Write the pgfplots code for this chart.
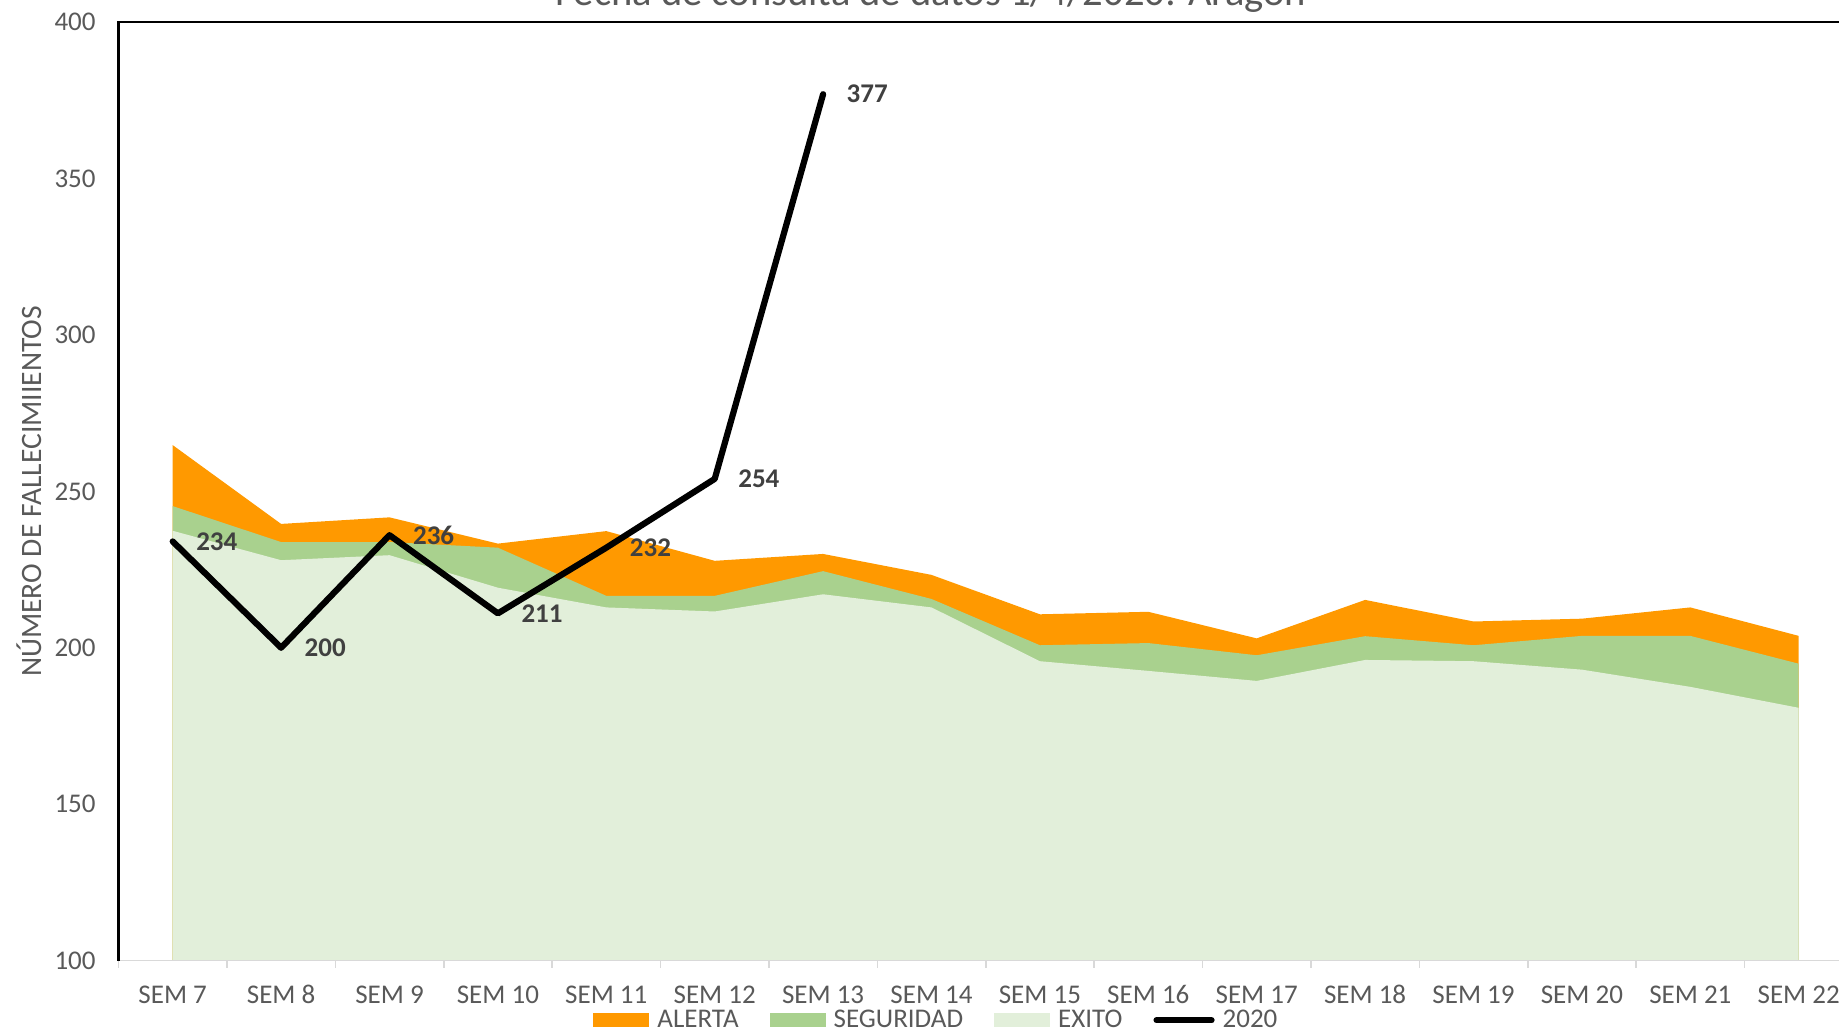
\documentclass[border=0pt]{standalone}
\usepackage{fontspec}
\setmainfont{Carlito}
\usepackage{pgfplots}
\usepackage{pgfplotstable}
\pgfplotsset{compat=1.18}
\definecolor{alerta}{HTML}{FF9900}
\definecolor{seguridad}{HTML}{A9D18E}
\definecolor{exito}{HTML}{E2EFDA}
\definecolor{txtgray}{HTML}{595959}
\definecolor{lblgray}{HTML}{404040}
\definecolor{axgray}{HTML}{D9D9D9}

\pgfplotstableread{
x exito seguridad alerta
0 237.4 245.3 264.8
1 228.0 233.8 239.6
2 229.6 233.8 241.7
3 219.2 232.0 233.3
4 212.9 216.6 237.3
5 211.6 216.6 227.8
6 217.1 224.5 230.0
7 212.9 215.6 223.3
8 195.7 200.8 210.7
9 192.6 201.5 211.5
10 189.4 197.6 203.0
11 196.1 203.7 215.3
12 195.7 200.8 208.4
13 193.0 203.8 209.3
14 187.5 203.8 212.9
15 180.8 194.9 203.8
}\areadata

\pgfplotstableread{
x y
0 234
1 200
2 236
3 211
4 232
5 254
6 377
}\linedata

\begin{document}
\begin{tikzpicture}
\useasboundingbox (0pt,0pt) rectangle (919.5pt,516.5pt);
\clip (0pt,0pt) rectangle (919.5pt,516.5pt);
\node[anchor=base, inner sep=0pt, font=\fontsize{20.3}{24}\selectfont, text=txtgray] at (465.5pt,513.5pt) {Fecha de consulta de datos 1/4/2020: Aragón};
\begin{axis}[
  at={(59.25pt,36.25pt)}, anchor=south west,
  scale only axis, width=867.2pt, height=469.1pt,
  xmin=-0.5, xmax=15.5, ymin=100, ymax=400,
  ytick={100,150,...,400},
  xtick={0,...,15},
  xticklabels={SEM 7,SEM 8,SEM 9,SEM 10,SEM 11,SEM 12,SEM 13,SEM 14,SEM 15,SEM 16,SEM 17,SEM 18,SEM 19,SEM 20,SEM 21,SEM 22},
  minor xtick={-0.5,0.5,...,15.5},
  tick pos=left,
  major tick length=0pt,
  minor tick length=3.5pt,
  xtick align=outside,
  minor tick style={axgray, line width=0.8pt},
  major tick style={draw=none},
  axis line style={draw=none},
  tick label style={font=\fontsize{13.5}{16}\selectfont, text=txtgray},
  yticklabel style={anchor=east, inner sep=0pt, xshift=-11.25pt},
  xticklabel style={anchor=base, inner sep=0pt, yshift=-21.4pt},
  /pgf/number format/assume math mode=true,
  ylabel={NÚMERO DE FALLECIMIIENTOS},
  every axis y label/.style={at={([xshift=-44.75pt]axis description cs:0,0.5)}, rotate=90, anchor=center, font=\fontsize{14.8}{17}\selectfont, text=txtgray},
  legend columns=4,
  legend cell align=left,
  legend style={
    at={(axis description cs:0.4710,-0.06375)}, anchor=center,
    draw=none, fill=none, inner sep=0pt,
    font=\fontsize{13.5}{16}\selectfont, text=txtgray,
    nodes={inner sep=0pt},
    /tikz/every odd column/.append style={column sep=4pt},
    /tikz/every even column/.append style={column sep=15.5pt},
    /tikz/column 6/.append style={column sep=12pt},
  },
  after end axis/.code={
    \draw[axgray, line width=0.8pt] (rel axis cs:0,0) -- (rel axis cs:1,0);
    \draw[black, line width=1.2pt] (rel axis cs:0,0) -- (rel axis cs:0,1) -- (rel axis cs:1,1);
  },
]
\addplot[fill=alerta, draw=none,
  legend image code/.code={\fill[alerta] (0pt,-3.5pt) rectangle (28pt,3.5pt);}]
  table[x=x,y=alerta]{\areadata} \closedcycle;
\addplot[fill=seguridad, draw=none,
  legend image code/.code={\fill[seguridad] (0pt,-3.5pt) rectangle (28pt,3.5pt);}]
  table[x=x,y=seguridad]{\areadata} \closedcycle;
\addplot[fill=exito, draw=none,
  legend image code/.code={\fill[exito] (0pt,-3.5pt) rectangle (28pt,3.5pt);}]
  table[x=x,y=exito]{\areadata} \closedcycle;
\addplot[black, mark=none, line width=3.1pt, line join=round, line cap=round,
  legend image code/.code={\draw[black, line width=3.1pt, line cap=round] (1.5pt,0pt) -- (29pt,0pt);},
  point meta=y,
  nodes near coords={\pgfmathprintnumber{\pgfplotspointmeta}},
  every node near coord/.append style={anchor=west, xshift=10.25pt, inner sep=0pt,
    font=\bfseries\fontsize{13.5}{16}\selectfont, text=lblgray}]
  table[x=x,y=y]{\linedata};
\legend{ALERTA,SEGURIDAD,EXITO,2020}
\end{axis}
\end{tikzpicture}
\end{document}
